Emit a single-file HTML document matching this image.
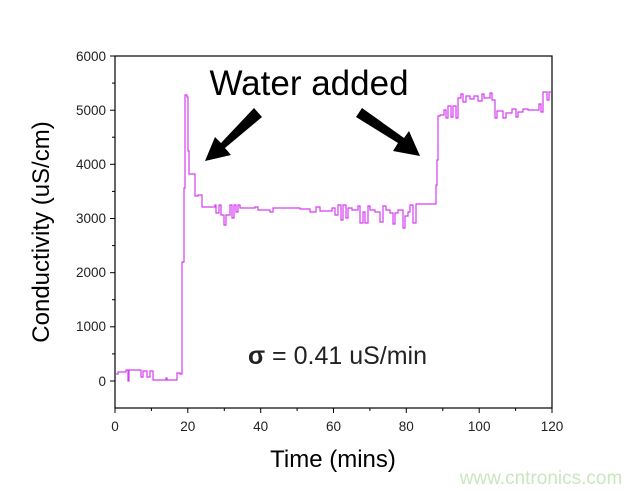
<!DOCTYPE html>
<html><head><meta charset="utf-8"><style>
html,body{margin:0;padding:0;background:#fff;}
svg{display:block;font-family:"Liberation Sans",Arial,sans-serif;}
</style></head><body>
<svg width="644" height="492" viewBox="0 0 644 492" xmlns="http://www.w3.org/2000/svg">
<rect width="644" height="492" fill="#fff"/>
<rect x="115" y="56" width="437" height="352" fill="none" stroke="#000" stroke-width="1.2"/>
<g stroke="#000" stroke-width="1">
<line x1="110" y1="56" x2="115" y2="56"/><line x1="110" y1="110.2" x2="115" y2="110.2"/><line x1="110" y1="164.3" x2="115" y2="164.3"/><line x1="110" y1="218.5" x2="115" y2="218.5"/><line x1="110" y1="272.7" x2="115" y2="272.7"/><line x1="110" y1="326.8" x2="115" y2="326.8"/><line x1="110" y1="381" x2="115" y2="381"/>
<line x1="112" y1="83.1" x2="115" y2="83.1"/><line x1="112" y1="137.2" x2="115" y2="137.2"/><line x1="112" y1="191.4" x2="115" y2="191.4"/><line x1="112" y1="245.6" x2="115" y2="245.6"/><line x1="112" y1="299.7" x2="115" y2="299.7"/><line x1="112" y1="353.9" x2="115" y2="353.9"/>
<line x1="115" y1="408" x2="115" y2="413"/><line x1="187.8" y1="408" x2="187.8" y2="413"/><line x1="260.7" y1="408" x2="260.7" y2="413"/><line x1="333.5" y1="408" x2="333.5" y2="413"/><line x1="406.3" y1="408" x2="406.3" y2="413"/><line x1="479.2" y1="408" x2="479.2" y2="413"/><line x1="552" y1="408" x2="552" y2="413"/>
<line x1="151.4" y1="408" x2="151.4" y2="411"/><line x1="224.3" y1="408" x2="224.3" y2="411"/><line x1="297.1" y1="408" x2="297.1" y2="411"/><line x1="369.9" y1="408" x2="369.9" y2="411"/><line x1="442.8" y1="408" x2="442.8" y2="411"/><line x1="515.6" y1="408" x2="515.6" y2="411"/>
</g>
<g font-size="13.5" fill="#222" text-anchor="end">
<text x="106" y="61">6000</text><text x="106" y="115">5000</text><text x="106" y="169">4000</text><text x="106" y="223">3000</text><text x="106" y="277">2000</text><text x="106" y="331">1000</text><text x="106" y="386">0</text>
</g>
<g font-size="13.5" fill="#222" text-anchor="middle">
<text x="115" y="431">0</text><text x="187.8" y="431">20</text><text x="260.7" y="431">40</text><text x="333.5" y="431">60</text><text x="406.3" y="431">80</text><text x="479.2" y="431">100</text><text x="552" y="431">120</text>
</g>
<text x="333" y="467" font-size="24" text-anchor="middle" fill="#000">Time (mins)</text>
<text transform="translate(49,232) rotate(-90)" font-size="24" text-anchor="middle" fill="#000">Conductivity (uS/cm)</text>
<text x="309" y="95" font-size="35" text-anchor="middle" fill="#000">Water added</text>
<text x="248" y="364" font-size="25" fill="#222"><tspan font-weight="bold">σ</tspan> = 0.41 uS/min</text>
<polygon points="254,108 262,117 225,148 231,155 205,161 215,137 221,143" fill="#000"/>
<polygon points="362,108 356,117 398,143 393,151 420,156 409,131 404,138" fill="#000"/>
<polyline fill="none" stroke="#d63cf0" stroke-width="1.2" points="
116,374 118,374 118,372 126,372 126,370 128,370 128,381 129,381 129,370 141,370 141,377 143,377 143,371 147,371 147,377 150,377 150,371 153,371 153,380 166,380 166,378 167,378 167,380 177,380 177,373 180,373 180,374 182,374 182,262 184,262 184,188 185,188 185,95 187,95 187,97 188,97 188,151 189,151 189,174 195,174 195,196 198,196 198,195 202,195 202,207 215,207 215,205 216,205 216,213 219,213 219,205 221,205 221,215 224,215 224,225 226,225 226,215 230,215 230,205 232,205 232,218 234,218 234,205 236,205 236,212 238,212 238,205 240,205 240,208 255,208 255,207 258,207 258,210 270,210 270,212 273,212 273,208 300,208 300,209 310,209 310,212 316,212 316,207 320,207 320,211 332,211 332,208 335,208 335,215 338,215 338,205 341,205 341,220 343,220 343,205 346,205 346,218 348,218 348,208 352,208 352,210 358,210 358,206 360,206 360,223 363,223 363,212 365,212 365,223 368,223 368,206 370,206 370,210 375,210 375,212 380,212 380,222 383,222 383,206 386,206 386,210 390,210 390,213 393,213 393,224 395,224 395,213 398,213 398,210 403,210 403,228 405,228 405,216 408,216 408,212 410,212 410,205 413,205 413,223 416,223 416,204 436,204 436,185 437,185 437,160 438,160 438,116 440,116 440,115 444,115 444,110 446,110 446,118 448,118 448,106 451,106 451,117 453,117 453,106 456,106 456,118 458,118 458,98 461,98 461,94 463,94 463,102 466,102 466,96 470,96 470,99 474,99 474,96 478,96 478,101 482,101 482,94 484,94 484,98 490,98 490,93 492,93 492,100 495,100 495,118 497,118 497,111 503,111 503,118 506,118 506,113 512,113 512,109 516,109 516,117 518,117 518,112 523,112 523,109 528,109 528,110 539,110 539,104 541,104 541,112 543,112 543,92 547,92 547,100 549,100 549,92 551,92"/>
<text x="541" y="484" font-size="19" text-anchor="middle" fill="#c8e6c0">www.cntronics.com</text>
</svg>
</body></html>
